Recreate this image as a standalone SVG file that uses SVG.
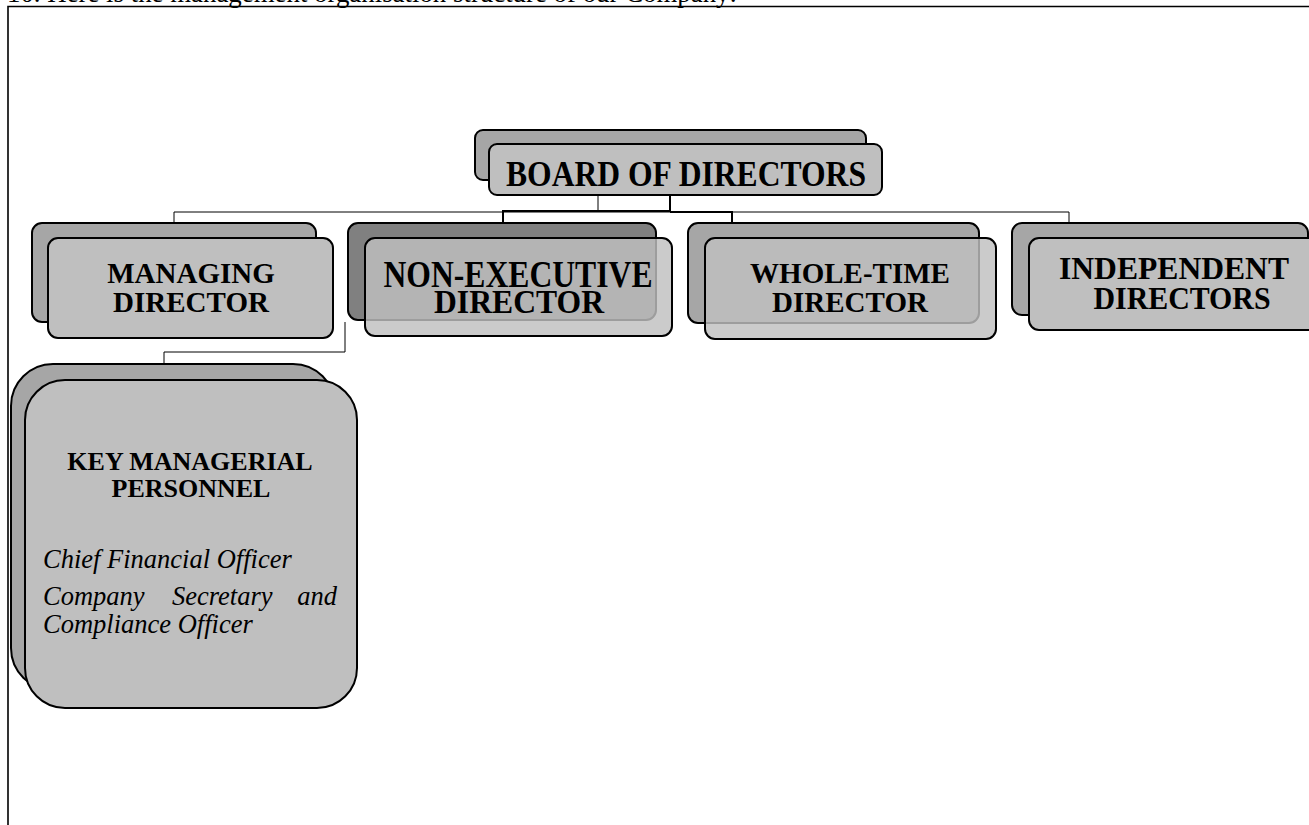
<svg xmlns="http://www.w3.org/2000/svg" width="1309" height="825" viewBox="0 0 1309 825">
<style>
.bk{fill:#a6a6a6;stroke:#000;stroke-width:2}
.bkd{fill:#808080;stroke:#000;stroke-width:2}
.fr{fill:#bfbfbf;stroke:#000;stroke-width:2}
.frt{fill:#bfbfbf;fill-opacity:0.82;stroke:#000;stroke-width:2}
.t{font-family:"Liberation Serif","Times New Roman",serif;font-weight:bold;fill:#000;text-anchor:middle}
.i{font-family:"Liberation Serif","Times New Roman",serif;font-style:italic;fill:#000;font-size:26.5px}
.thin{fill:none;stroke:#000;stroke-width:1}
.thick{fill:none;stroke:#000;stroke-width:2}
</style>
<rect width="1309" height="825" fill="#fff"/>
<text x="7" y="1.5" font-family="Liberation Serif,serif" font-size="26.8" textLength="730" lengthAdjust="spacingAndGlyphs">10. Here is the management organisation structure of our Company:</text>
<path d="M8,825 V6.5 H1309" fill="none" stroke="#000" stroke-width="1.6"/>
<g id="connectors">
<path class="thin" d="M598,195 V212 M174,226 V212 H1069 V226"/>
<path class="thick" d="M670,195 V211 H503 V226 M670,212 H732 V226"/>
<path class="thin" d="M345,322 V352 H164 V365"/>
</g>
<g id="board">
<rect class="bk" x="475" y="130" width="391" height="50" rx="8"/>
<rect class="fr" x="489" y="144" width="393" height="51" rx="8"/>
<text class="t" x="686" y="186" font-size="36" textLength="360" lengthAdjust="spacingAndGlyphs">BOARD OF DIRECTORS</text>
</g>
<g id="md">
<rect class="bk" x="32" y="223" width="284" height="99" rx="10"/>
<rect class="fr" x="48" y="238" width="285" height="100" rx="10"/>
<text class="t" x="191" y="283" font-size="29">MANAGING</text>
<text class="t" x="191" y="312" font-size="29">DIRECTOR</text>
</g>
<g id="ned">
<rect class="bkd" x="348" y="223" width="308" height="97" rx="10"/>
<rect class="frt" x="365" y="238" width="307" height="98" rx="10"/>
<text class="t" x="518" y="287" font-size="38" textLength="269" lengthAdjust="spacingAndGlyphs">NON-EXECUTIVE</text>
<text class="t" x="519" y="313" font-size="33" textLength="170" lengthAdjust="spacingAndGlyphs">DIRECTOR</text>
</g>
<g id="wtd">
<rect class="bk" x="688" y="223" width="291" height="100" rx="10"/>
<rect class="frt" x="705" y="238" width="291" height="101" rx="10"/>
<text class="t" x="850" y="283" font-size="29">WHOLE-TIME</text>
<text class="t" x="850" y="312" font-size="29">DIRECTOR</text>
</g>
<g id="ind">
<rect class="bk" x="1012" y="223" width="296" height="92" rx="10"/>
<rect class="fr" x="1029" y="238" width="290" height="92" rx="10"/>
<text class="t" x="1174" y="279" font-size="32" textLength="230" lengthAdjust="spacingAndGlyphs">INDEPENDENT</text>
<text class="t" x="1182" y="309" font-size="32" textLength="177" lengthAdjust="spacingAndGlyphs">DIRECTORS</text>
</g>
<g id="kmp">
<rect class="bk" x="11" y="364" width="324" height="326" rx="42"/>
<rect class="fr" x="25" y="380" width="332" height="328" rx="40"/>
<text class="t" x="190" y="470" font-size="26">KEY MANAGERIAL</text>
<text class="t" x="191" y="497" font-size="26">PERSONNEL</text>
<text class="i" x="43" y="568">Chief Financial Officer</text>
<text class="i" x="43" y="605">Company</text>
<text class="i" x="172" y="605">Secretary</text>
<text class="i" x="337" y="605" text-anchor="end">and</text>
<text class="i" x="43" y="633">Compliance Officer</text>
</g>
</svg>
